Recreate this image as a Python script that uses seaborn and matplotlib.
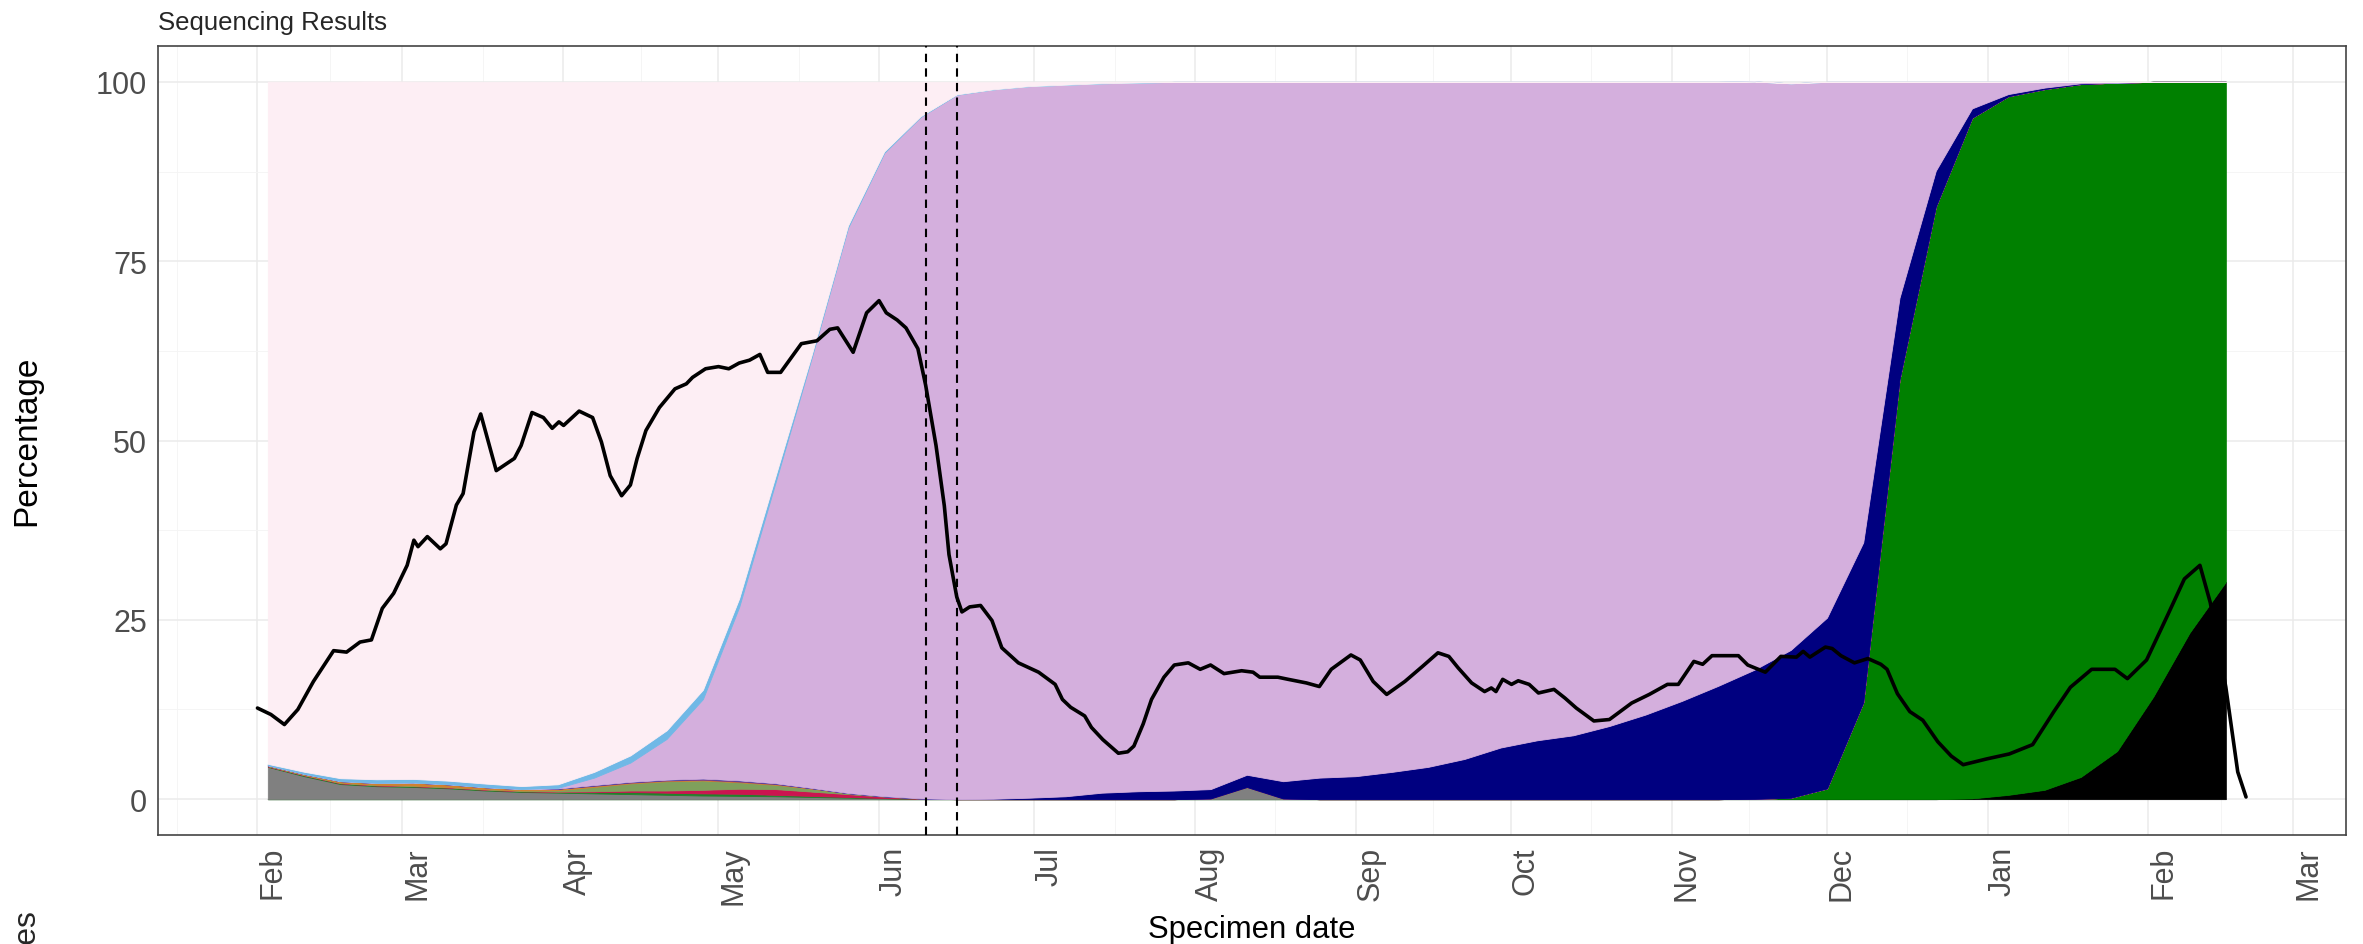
import matplotlib
matplotlib.use("Agg")
import numpy as np
import pandas as pd
import matplotlib.pyplot as plt
import matplotlib.dates as mdates
from matplotlib.ticker import FixedLocator
import seaborn as sns

# ---------------- data ----------------
week_start = "2021-02-03"          # weekly sequencing bins (Wednesdays)

ba2 = [0]*47 + [0.1, 0.6, 1.3, 3.1, 6.7, 14.3, 23.2, 30.3]
ba1 = [0]*41 + [0.05, 0.2, 1.5, 13.5, 58.5, 82.6, 94.9, 97.4, 97.7, 96.6, 93.2, 85.7, 76.8, 69.7]
other = [4.5, 3.2, 2.1, 1.8, 1.7, 1.5, 1.2, 1.0, 0.9, 0.8, 0.7, 0.6, 0.5, 0.45, 0.4, 0.3, 0.2, 0.1, 0.05] \
    + [0]*7 + [0.1, 1.7, 0.1] + [0]*26
dkgreen = [0.05] + [0.1]*8 + [0.2, 0.3, 0.3, 0.3, 0.3, 0.2, 0.15, 0.1, 0.05] + [0]*37
crimson = [0.05]*9 + [0.1, 0.2, 0.3, 0.5, 0.7, 0.8, 0.6, 0.4, 0.2, 0.05] + [0]*36
olive = [0.05]*8 + [0.2, 0.6, 1.0, 1.3, 1.3, 0.9, 0.6, 0.4, 0.15, 0.05] + [0]*37
orange = [0.05, 0.1, 0.2, 0.25, 0.4, 0.35, 0.25, 0.2, 0.2, 0.15, 0.1, 0.1, 0.1, 0.1, 0.1, 0.05] + [0]*39
purple = [0.02]*9 + [0.1, 0.1, 0.1, 0.15, 0.15, 0.1, 0.05] + [0]*39
ay42 = [0]*20 + [0.05, 0.2, 0.4, 0.9, 1.1, 1.2, 1.3, 1.7, 2.4, 3.0, 3.2, 3.8, 4.5, 5.6, 7.2, 8.2,
                 8.9, 10.2, 11.8, 13.7, 15.8, 18.0, 20.6, 23.8, 22.3, 11.4, 5.0, 1.3, 0.3, 0.2, 0.1] + [0]*4
delta = [0]*8 + [0.1, 1.05, 2.7, 5.7, 11.1, 24.2, 41.9, 60.0, 78.8, 89.7, 95.0, 98.2, 98.9, 99.2, 99.2,
                 98.9, 98.8, 98.8, 98.6, 96.6, 97.5, 97.0, 96.8, 96.2, 95.5, 94.4, 92.8, 91.8, 91.1,
                 89.8, 88.2, 86.3, 84.2, 82.0, 79.0, 74.7, 64.2, 30.1, 12.4, 3.7, 1.7, 0.8, 0.2, 0.05,
                 0, 0, 0]
kappa = [0.2, 0.3, 0.4, 0.5, 0.5, 0.5, 0.5, 0.4, 0.5, 0.8, 1.0, 1.2, 1.3, 1.2, 0.9, 0.4, 0.3, 0.2,
         0.1, 0.05] + [0]*35
alpha = [95.1, 96.2, 97.1, 97.3, 97.2, 97.4, 97.8, 98.2, 97.9, 96.2, 93.9, 90.4, 84.7, 72.0, 55.0,
         38.0, 20.0, 9.7, 4.8, 1.7, 1.0, 0.6, 0.4, 0.2, 0.1] + [0]*30

layer_names = ["BA.2", "BA.1", "Other", "B.1.351", "P.1", "B.1.525", "B.1.1.318", "B.1.617.1",
               "AY.4.2", "Delta", "B.1.617.2 (early)", "Alpha"]
layer_colors = ["#000000", "#008000", "#808080", "#22802A", "#CC1450", "#7FA05C", "#D08030",
                "#7A3E8A", "#000080", "#D4AFDD", "#70B8E6", "#FDEEF4"]

# black line: days since 2021-02-01 and value
line_origin = "2021-02-01"
line_day = [0, 2.6, 5.2, 7.8, 10.8, 14.7, 17.2, 19.8, 22, 24.1, 26.3, 28.9, 30.2, 31, 32.8, 35.3,
            36.4, 38.4, 39.7, 41.8, 43.1, 46.1, 49.6, 50.9, 53, 55.2, 56.9, 58.2, 59.1, 62.1, 64.7,
            66.4, 68.1, 70.3, 72, 73.3, 75, 77.6, 80.6, 82.8, 84, 86.5, 89, 91, 93, 95, 97, 98.5,
            101, 103, 105, 108, 110.5, 112, 115, 117.6, 120, 121.4, 123.5, 125.2, 127.5, 129, 131,
            132.6, 133.5, 135, 136, 137.5, 139.6, 141.8, 143.7, 146.9, 150.8, 154, 155.4, 157,
            159.7, 161, 163.2, 166.2, 168, 169.2, 171, 172.6, 175, 177, 179.7, 182, 184, 186.6,
            190, 192.2, 193.5, 197, 199, 202.5, 205, 207.3, 209, 211.1, 212.9, 215.4, 218, 221.5,
            224.9, 227.9, 230, 231.8, 234.4, 236.9, 238.2, 239.1, 240.4, 242.1, 243.4, 245.5,
            247.3, 250.3, 252.4, 254.6, 258, 261, 265.3, 268.7, 272.2, 274.3, 277.3, 279, 280.8,
            285.9, 287.7, 291.1, 294.1, 297.1, 298.4, 299.7, 302.7, 304, 305.7, 308.3, 310.9,
            313.4, 314.6, 316.6, 319, 321.5, 324.4, 327, 329.3, 333.8, 338.2, 342.7, 346.8, 350,
            354.1, 358.6, 361, 364.7, 368.8, 372, 375, 377, 380, 382.3, 383.9]
line_pct = [12.7, 11.8, 10.4, 12.5, 16.4, 20.7, 20.5, 21.9, 22.2, 26.6, 28.7, 32.6, 36.1, 35.2,
            36.6, 34.9, 35.6, 41, 42.6, 51.2, 53.7, 45.8, 47.5, 49.3, 53.9, 53.2, 51.7, 52.6, 52.1,
            54.1, 53.2, 49.8, 45.1, 42.3, 43.8, 47.5, 51.4, 54.6, 57.2, 57.9, 58.8, 60.0, 60.3,
            60.0, 60.8, 61.2, 62.0, 59.5, 59.5, 61.5, 63.5, 63.9, 65.5, 65.7, 62.3, 67.8, 69.5,
            67.8, 66.8, 65.7, 62.8, 57.7, 49.3, 40.9, 34.1, 28.2, 26.1, 26.8, 27.0, 24.9, 21.1,
            19.0, 17.7, 16.0, 13.9, 12.8, 11.6, 10.0, 8.3, 6.4, 6.6, 7.4, 10.5, 13.9, 17.0, 18.7,
            19.0, 18.1, 18.7, 17.5, 17.9, 17.7, 17.0, 17.0, 16.7, 16.2, 15.7, 18.1, 19.0, 20.1,
            19.4, 16.4, 14.6, 16.4, 18.5, 20.4, 19.9, 18.3, 16.2, 15.0, 15.5, 15.0, 16.7, 16.0,
            16.5, 16.0, 14.8, 15.3, 14.1, 12.7, 10.9, 11.1, 13.4, 14.6, 16.0, 16.0, 19.2, 18.8,
            20.0, 20.0, 18.7, 17.7, 19.9, 19.8, 20.6, 19.8, 21.2, 21.0, 20.0, 19.0, 19.6, 18.8,
            18.1, 14.7, 12.2, 11.0, 8.0, 6.0, 4.8, 5.6, 6.3, 7.6, 12.2, 15.6, 18.1, 18.1, 16.8,
            19.4, 25.7, 30.7, 32.6, 27.4, 15.6, 3.8, 0.3]

event_dates = ["2021-06-10", "2021-06-16"]
y_ticks = [0, 25, 50, 75, 100]

# ---------------- drawing ----------------
sns.set_style("white")
plt.rcParams["font.family"] = ["Liberation Sans", "DejaVu Sans"]

W, H = 2363, 945
fig = plt.figure(figsize=(W / 100, H / 100), dpi=100)
L, R, T, B = 158, 2346, 47, 836
ax = fig.add_axes([L / W, 1 - B / H, (R - L) / W, (B - T) / H])
ax.set_axisbelow(True)

weeks = pd.date_range(week_start, periods=len(alpha), freq="7D")
layers = [ba2, ba1, other, dkgreen, crimson, olive, orange, purple, ay42, delta, kappa, alpha]
ax.stackplot(weeks, *layers, colors=layer_colors, labels=layer_names,
             edgecolor="face", linewidth=0.6, zorder=2)

origin = pd.Timestamp(line_origin)
line_df = pd.DataFrame({"date": origin + pd.to_timedelta(line_day, unit="D"), "pct": line_pct})
sns.lineplot(data=line_df, x="date", y="pct", color="black", linewidth=2.6, sort=False,
             ax=ax, zorder=5, legend=False)

for d in event_dates:
    ax.axvline(pd.Timestamp(d), color="black", linewidth=1.5, linestyle=(0, (4, 3)), zorder=6)

# scales
ax.set_ylim(-5, 105)
ax.yaxis.set_major_locator(FixedLocator(y_ticks))
ax.yaxis.set_minor_locator(FixedLocator([12.5, 37.5, 62.5, 87.5]))
ax.set_xlim(origin - pd.Timedelta(days=19.2), origin + pd.Timedelta(days=403.2))
ax.xaxis.set_major_locator(mdates.MonthLocator())
ax.xaxis.set_major_formatter(mdates.DateFormatter("%b"))
months = pd.date_range("2021-01-01", "2022-04-01", freq="MS")
mids = [a + (b - a) / 2 for a, b in zip(months[:-1], months[1:])]
ax.xaxis.set_minor_locator(FixedLocator(mdates.date2num(mids)))

ax.grid(which="major", color="#EBEBEB", linewidth=1.1)
ax.grid(which="minor", color="#F4F4F4", linewidth=0.6)
for s in ax.spines.values():
    s.set_color("#444444")
    s.set_linewidth(1.2)
ax.tick_params(which="major", length=6, width=1.1, color="#444444", pad=2)
ax.tick_params(which="minor", length=0)
ax.tick_params(axis="y", labelsize=22, labelcolor="#4D4D4D")
ax.tick_params(axis="x", labelsize=22, labelcolor="#4D4D4D")
for lbl in ax.get_xticklabels():
    lbl.set_rotation(90)
    lbl.set_ha("left")

ax.set_xlabel("Specimen date", fontsize=22.3, color="black")
ax.xaxis.set_label_coords(1252 / W, 1 - 930 / H, transform=fig.transFigure)
ax.xaxis.label.set_va("center")
ax.set_ylabel("Percentage", fontsize=24, color="black")
ax.yaxis.set_label_coords(27 / W, 1 - 441 / H, transform=fig.transFigure)
ax.yaxis.label.set_va("center")

fig.text(L / W, 1 - 23 / H, "Sequencing Results", ha="left", va="center", fontsize=18.5)
fig.text(25 / W, 1 - 908 / H, "Lineages", rotation=90, ha="center", va="top", fontsize=23)

fig.savefig("out.png", dpi=100, facecolor="white")
